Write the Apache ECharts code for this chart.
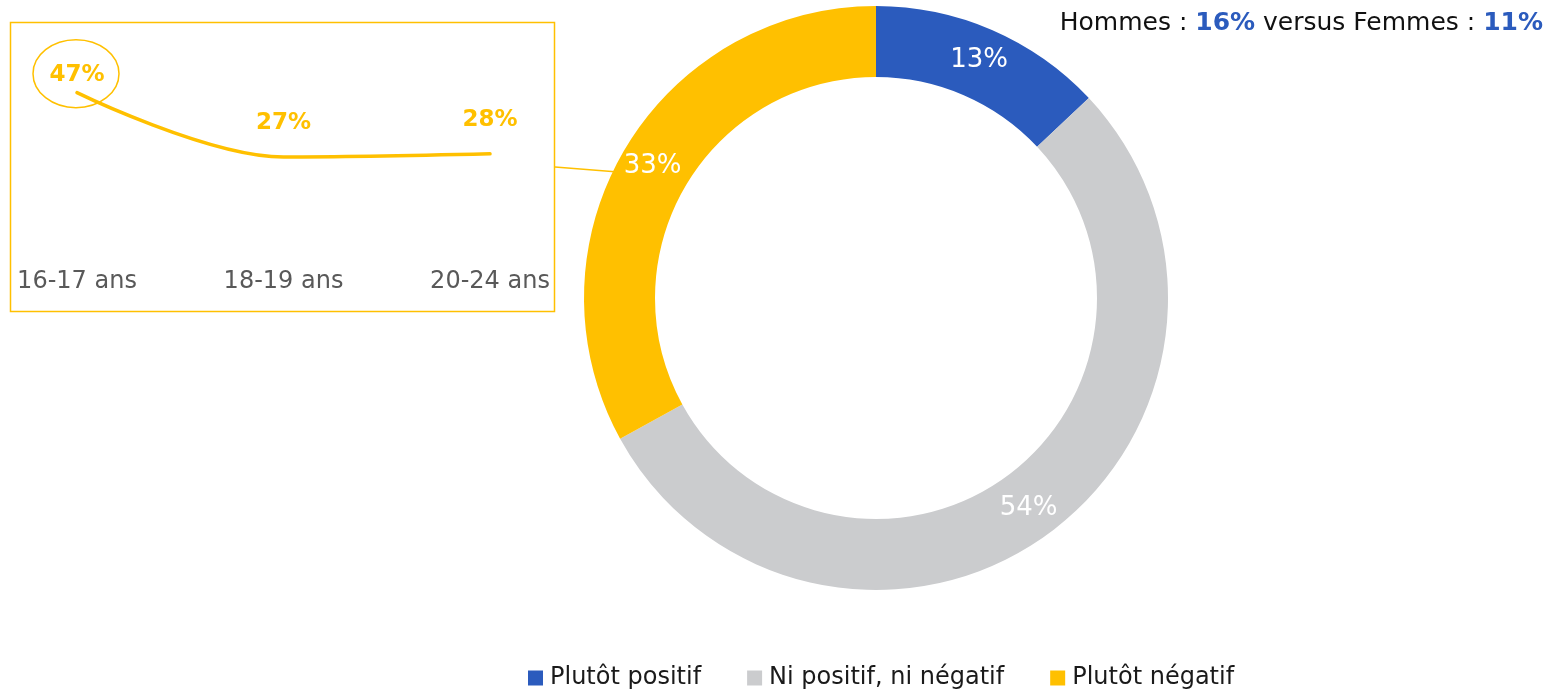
<!DOCTYPE html>
<html>
<head>
<meta charset="utf-8">
<script src="https://cdn.jsdelivr.net/npm/echarts@6/dist/echarts.min.js"></script>
<style>
    html, body {margin:0;padding:0;background:#ffffff;}
    #chart {width:1550px;height:689px;}
</style>
</head>
<body>
<div id="chart"></div>
<script>
    // donut : opinion d'ensemble
    var avisNoms = ['Plutôt positif', 'Ni positif, ni négatif', 'Plutôt négatif'];
    var avisValeurs = [13, 54, 33];
    var avisCouleurs = ['#2B5BBD', '#CBCCCE', '#FFC000'];

    // encart : "plutôt négatif" par âge
    var ages = ['16-17 ans', '18-19 ans', '20-24 ans'];
    var negatifParAge = [47, 27, 28];

    var font = 'DejaVu Sans';
    var myChart = echarts.init(document.getElementById('chart'));

    var pieData = avisNoms.map(function (n, i) {
        return {name: n, value: avisValeurs[i], itemStyle: {color: avisCouleurs[i]}};
    });

    var lineData = negatifParAge.map(function (v, i) {
        var d = {value: v};
        if (i === 0) d.label = {offset: [0, -18]};
        return d;
    });

    var option = {
        textStyle: {fontFamily: font},
        title: {
            right: 2, top: 6,
            text: 'Hommes : {b|16%} versus Femmes : {b|11%}',
            textStyle: {
                fontFamily: font, fontSize: 25, fontWeight: 'normal', color: '#111',
                rich: {b: {fontFamily: font, fontSize: 25, fontWeight: 'bold', color: '#2B5BBD'}}
            }
        },
        legend: {
            top: 661, left: 523,
            itemWidth: 15, itemHeight: 15, itemGap: 46,
            icon: 'rect',
            textStyle: {fontFamily: font, fontSize: 24, color: '#1a1a1a', padding: [0, 0, 0, 2]},
            data: avisNoms
        },
        grid: {left: 77, right: 1060, top: 83, height: 161},
        xAxis: {
            type: 'category', data: ages, boundaryGap: false,
            axisLine: {show: false}, axisTick: {show: false},
            axisLabel: {fontFamily: font, fontSize: 24, color: '#595959', margin: 26, interval: 0}
        },
        yAxis: {
            type: 'value', min: 0, max: 50, show: false
        },
        graphic: [
            {type: 'rect', shape: {x: 10.5, y: 22.5, width: 544, height: 289},
                style: {fill: 'none', stroke: '#FFC000', lineWidth: 1.5}, z: 1},
            {type: 'line', shape: {x1: 555, y1: 167, x2: 618, y2: 172},
                style: {stroke: '#FFC000', lineWidth: 1.5}, z: 1}
        ],
        series: [
            {
                type: 'pie',
                center: [876, 298],
                radius: [221, 292],
                startAngle: 90,
                silent: true,
                label: {
                    show: true, position: 'inside',
                    formatter: '{c}%',
                    fontFamily: font, fontSize: 26, color: '#ffffff', fontWeight: 'normal'
                },
                labelLine: {show: false},
                data: pieData
            },
            {
                type: 'line',
                smooth: 0.35,
                symbol: 'circle',
                symbolSize: 1,
                showSymbol: true,
                itemStyle: {color: 'rgba(0,0,0,0)'},
                lineStyle: {color: '#FFC000', width: 3.5, cap: 'round'},
                label: {
                    show: true, position: 'inside', offset: [0, -34],
                    formatter: '{c}%',
                    fontFamily: font, fontSize: 23, fontWeight: 'bold', color: '#FFC000'
                },
                data: lineData
            }
        ]
    };
    myChart.setOption(option);

    // ellipse autour de la valeur 16-17 ans
    var p = myChart.convertToPixel({seriesIndex: 1}, [0, negatifParAge[0]]);
    var g = option.graphic.slice();
    g.push({type: 'ellipse', shape: {cx: p[0] - 1, cy: p[1] - 19, rx: 43, ry: 34},
        style: {fill: 'none', stroke: '#FFC000', lineWidth: 1.5}, z: 1});
    myChart.setOption({graphic: g});
</script>
</body>
</html>
